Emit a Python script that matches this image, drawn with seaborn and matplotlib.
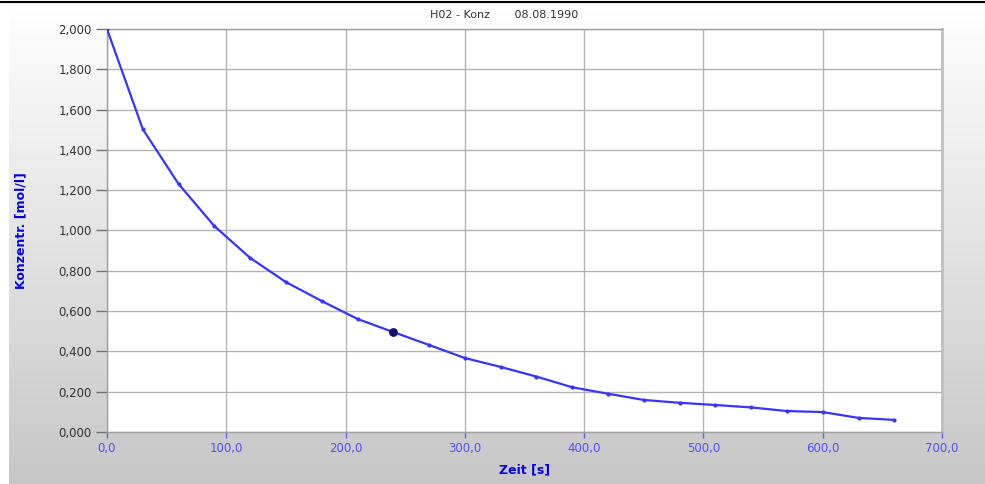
import numpy as np
import pandas as pd
import matplotlib
matplotlib.use("Agg")
import matplotlib.pyplot as plt
import seaborn as sns
from matplotlib.ticker import FuncFormatter, MultipleLocator

# Data
zeit = [0, 30, 60, 90, 120, 150, 180, 210, 240, 270, 300, 330, 360, 390,
        420, 450, 480, 510, 540, 570, 600, 630, 660]
konz = [2.000, 1.503, 1.231, 1.022, 0.864, 0.744, 0.650, 0.561, 0.496, 0.432,
        0.367, 0.323, 0.275, 0.222, 0.190, 0.159, 0.145, 0.134, 0.122, 0.104,
        0.099, 0.070, 0.060]
highlight_x = [240]
highlight_y = [0.496]
title = "H02 - Konz       08.08.1990"
xlabel = "Zeit [s]"
ylabel = "Konzentr. [mol/l]"

df = pd.DataFrame({"Zeit": zeit, "Konz": konz})

sns.set_style("white")
plt.rcParams['font.family'] = ['DejaVu Sans']

fig = plt.figure(figsize=(9.85, 4.84), dpi=100)

# background gradient
bg = fig.add_axes([0.009, 0, 0.991, 0.995], zorder=-10)
grad = np.linspace(1.0, 0.78, 256).reshape(-1, 1)
bg.imshow(np.dstack([grad, grad, grad]), aspect="auto", extent=[0, 1, 0, 1])
bg.set_axis_off()
# top black line
fig.add_artist(plt.Line2D([0, 1], [0.995, 0.995], color="black", lw=1.5, transform=fig.transFigure))

ax = fig.add_axes([107/985, 1 - 432/484, (942-107)/985, (432-29)/484])
ax.set_facecolor("white")

sns.lineplot(data=df, x="Zeit", y="Konz", ax=ax, color="#3535ff", lw=1.6,
             marker="o", markersize=3, markeredgewidth=0, zorder=3)
ax.scatter(highlight_x, highlight_y, s=28, color="#101070", zorder=4)

ax.set_xlim(0, 700)
ax.set_ylim(0, 2.0)
ax.xaxis.set_major_locator(MultipleLocator(100))
ax.yaxis.set_major_locator(MultipleLocator(0.2))
ax.xaxis.set_major_formatter(FuncFormatter(lambda v, p: f"{v:.1f}".replace(".", ",")))
ax.yaxis.set_major_formatter(FuncFormatter(lambda v, p: f"{v:.3f}".replace(".", ",")))

ax.grid(True, color="#b4b4b4", lw=1.0)
for s in ax.spines.values():
    s.set_color("#a0a0a0")
    s.set_linewidth(1.0)
ax.spines["right"].set_color("#c0c0c0")
ax.spines["right"].set_linewidth(2.0)

ax.tick_params(axis="y", direction="out", length=8, width=1, color="#707070",
               labelsize=8.5, labelcolor="#333333", pad=3, left=True)
ax.tick_params(axis="x", direction="out", length=4, width=1, color="#6060ff",
               labelsize=8.5, labelcolor="#5050ff", pad=3, bottom=True)

ax.set_xlabel(xlabel, color="#0000ee", fontweight="bold", fontsize=9, labelpad=6)
ax.set_ylabel(ylabel, color="#0000ee", fontweight="bold", fontsize=9, labelpad=22)
fig.text(0.512, 0.968, title, ha="center", va="center", fontsize=8, color="#333333")

fig.savefig("out.png", dpi=100)
